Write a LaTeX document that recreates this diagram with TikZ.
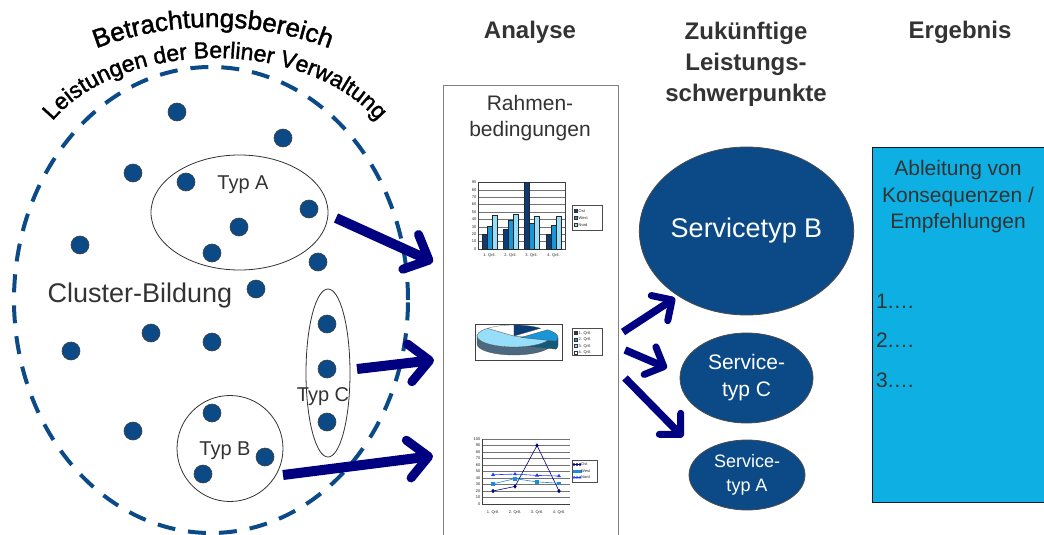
\documentclass[tikz,border=0pt]{standalone}
\usepackage{fontspec}
\setmainfont{Liberation Sans}
\newfontfamily\curvefam[FakeBold=1.6]{Liberation Sans}
\usetikzlibrary{shapes.geometric,arrows.meta,decorations.text,plotmarks}
\definecolor{dotblue}{RGB}{11,74,135}
\definecolor{navyar}{RGB}{0,0,128}
\definecolor{cyanbox}{RGB}{14,176,228}
\definecolor{txtgray}{RGB}{51,51,51}
\definecolor{barost}{RGB}{10,60,120}
\definecolor{barwest}{RGB}{24,150,215}
\definecolor{barnord}{RGB}{150,222,250}
\definecolor{pieside}{RGB}{77,105,128}
\definecolor{pieteal}{RGB}{20,90,120}
\definecolor{lnwest}{RGB}{30,140,215}
\definecolor{lnnord}{RGB}{30,60,255}
\newcommand\myfs[2]{\fontsize{#1}{#2}\selectfont}
\newcommand\curvefA{\curvefam\fontsize{26}{26}\selectfont}
\newcommand\curvefB{\curvefam\fontsize{23}{23}\selectfont}
\begin{document}
\begin{tikzpicture}[x=1pt,y=-1pt,
  dot/.style={circle, fill=dotblue, draw=black!75, line width=0.6pt, minimum size=18pt, inner sep=0pt},
  grp/.style={ellipse, draw=black!80, line width=0.8pt, inner sep=0pt},
  lbl/.style={text=txtgray, inner sep=0pt, font=\myfs{20}{24}},
  hdr/.style={text=txtgray, align=center, inner sep=0pt, font=\bfseries\myfs{24}{31}},
  svc/.style={ellipse, fill=dotblue, draw=black!70, line width=0.8pt, text=white, align=center, inner sep=0pt},
  fatarrow/.style={draw=navyar, line width=10pt, -{Straight Barb[length=20pt, width=38pt, line width=9pt, round]}},
  midarrow/.style={draw=navyar, line width=7.5pt, -{Straight Barb[length=15pt, width=30pt, line width=7pt, round]}},
  tinyt/.style={font=\myfs{4}{4.5}, inner sep=0pt, text=black!85},
  grid/.style={black!55, line width=0.3pt},
  legbox/.style={draw=black!70, line width=0.3pt, inner sep=0pt, anchor=north west, fill=white},
]
\useasboundingbox (0,0) rectangle (1044,535);

% dashed scope area
\node[ellipse, draw=dotblue, dash pattern=on 18pt off 13pt, line width=4pt,
      minimum width=394pt, minimum height=466pt, inner sep=0pt] (area) at (211,300) {};

% curved titles
\path[decorate, decoration={text along path, text align=center,
      text={|\curvefA|Betrachtungsbereich}}]
  (92,50) arc[start angle=248.5, end angle=291.5, radius=330];
\path[decorate, decoration={text along path, text align=center,
      text={|\curvefB|Leistungen der Berliner Verwaltung}}]
  (52,121.8) arc[start angle=208.2, end angle=331.8, x radius=185, y radius=121];

% groups
\node[grp, minimum width=177pt, minimum height=115pt] (tA) at (239.5,212.5) {};
\node[grp, minimum width=44pt, minimum height=168pt] (tC) at (328,373) {};
\node[grp, circle, minimum size=106pt] (tB) at (230,448.5) {};

% dots
\foreach \n/\p in {1/{(177,112)},2/{(283,138)},3/{(133,173)},4/{(186,182)},5/{(309,209)},
  6/{(239,227)},7/{(80,245)},8/{(212,253)},9/{(318,262)},10/{(256,289)},11/{(151,333)},
  12/{(212,342)},13/{(71,351)},14/{(327,324)},15/{(327,369)},16/{(327,422)},17/{(212,413)},
  18/{(133,431)},19/{(265,457)},20/{(203,474)}}
  \node[dot] (d\n) at \p {};

% labels
\node[lbl] (lA) at (243,185) {Typ A};
\node[lbl] (lC) at (323,397) {Typ C};
\node[lbl] (lB) at (225,451) {Typ B};
\node[lbl, font=\myfs{27}{30}] (cl) at (140,296) {Cluster-Bildung};

% headers
\node[hdr] (h1) at (530,32) {Analyse};
\node[hdr] (h2) at (746,64) {Zukünftige\\Leistungs-\\schwerpunkte};
\node[hdr] (h3) at (960,32) {Ergebnis};

% analyse box
\node[draw=black!50, line width=1.2pt, fill=white, minimum width=175pt, minimum height=460pt,
      inner sep=0pt, anchor=north west] (ana) at (443,85) {};
\node[lbl, align=center, font=\myfs{21}{26.5}] (rb) at (530,118) {Rahmen-\\bedingungen};

% ---- bar chart
\foreach \v in {0,10,...,90} {
  \draw[grid] (478,{249-0.74*\v}) -- (565,{249-0.74*\v});
  \node[tinyt, anchor=east] (by\v) at (476.5,{249-0.74*\v}) {\v};
}
\draw[black!75, line width=0.4pt] (478,182) rectangle (565,249);
\foreach \i/\gx/\o/\w/\nn in {1/482/20.4/30.6/45.9, 2/503/27.4/38.6/46.9, 3/524/90/34.6/45, 4/546/20.4/31.6/43.9} {
  \filldraw[fill=barost, draw=black!85, line width=0.3pt] (\gx,249) rectangle ++(5,{-0.74*\o});
  \filldraw[fill=barwest, draw=black!85, line width=0.3pt] ({\gx+5},249) rectangle ++(5,{-0.74*\w});
  \filldraw[fill=barnord, draw=black!85, line width=0.3pt] ({\gx+10},249) rectangle ++(5,{-0.74*\nn});
  \node[tinyt] (bc\i) at ({\gx+7.5},255) {\i. Qrtl.};
}
\node[legbox, minimum width=30pt, minimum height=25pt] (blg) at (572,205) {};
\foreach \k/\c/\t/\yy in {1/barost/Ost/211, 2/barwest/West/218, 3/barnord/Nord/225} {
  \filldraw[fill=\c, draw=black!80, line width=0.2pt] (574.5,{\yy-1.5}) rectangle ++(3,3);
  \node[tinyt, anchor=west] (bl\k) at (578.5,\yy) {\t};
}

% ---- pie chart
\node[draw=black!75, line width=0.5pt, minimum width=87pt, minimum height=36pt, inner sep=0pt,
      anchor=north west] (pfr) at (475,324) {};
\filldraw[fill=pieside, draw=black!70, line width=0.3pt]
  (514,336) ++(19.4:37 and 11) arc[start angle=19.4, end angle=180, x radius=37, y radius=11]
  -- ++(0,8) arc[start angle=180, end angle=19.4, x radius=37, y radius=11] -- cycle;
\filldraw[fill=pieteal, draw=black!70, line width=0.3pt]
  (521,337.5) -- ++(19.4:37 and 11) -- ++(0,8) -- (521,345.5) -- cycle;
\filldraw[fill=pieteal, draw=black!70, line width=0.3pt]
  (521,337.5) ++(0:37 and 11) arc[start angle=0, end angle=19.4, x radius=37, y radius=11]
  -- ++(0,8) arc[start angle=19.4, end angle=0, x radius=37, y radius=11] -- cycle;
\filldraw[fill=barnord, draw=black!70, line width=0.3pt]
  (514,336) -- ++(19.4:37 and 11) arc[start angle=19.4, end angle=224.4, x radius=37, y radius=11] -- cycle;
\filldraw[fill=white, draw=black!60, line width=0.3pt]
  (514,336) -- ++(224.4:37 and 11) arc[start angle=224.4, end angle=270, x radius=37, y radius=11] -- cycle;
\filldraw[fill=barost, draw=black!70, line width=0.3pt]
  (514,336) -- ++(-90:37 and 11) arc[start angle=-90, end angle=-44.4, x radius=37, y radius=11] -- cycle;
\filldraw[fill=barwest, draw=black!70, line width=0.3pt]
  (521,337.5) -- ++(-44.4:37 and 11) arc[start angle=-44.4, end angle=19.4, x radius=37, y radius=11] -- cycle;
\node[legbox, minimum width=30pt, minimum height=27pt] (plg) at (572,328) {};
\foreach \k/\c/\yy in {1/barost/333, 2/barwest/339.5, 3/barnord/346, 4/white/352.5} {
  \filldraw[fill=\c, draw=black!80, line width=0.2pt] (574.5,{\yy-1.5}) rectangle ++(3,3);
  \node[tinyt, anchor=west] (pl\k) at (578.5,\yy) {\k. Qrtl.};
}

% ---- line chart
\foreach \v in {0,10,...,100} {
  \draw[grid] (482,{504-0.65*\v}) -- (570,{504-0.65*\v});
  \node[tinyt, anchor=east] (ly\v) at (480.5,{504-0.65*\v}) {\v};
}
\draw[black!75, line width=0.4pt] (482,439) -- (482,504) -- (570,504);
\foreach \i/\cx in {1/493, 2/515, 3/537, 4/559}
  \node[tinyt] (lc\i) at (\cx,512) {\i. Qrtl.};
\draw[navyar, line width=0.6pt] plot[mark=diamond*, mark size=1.7pt, mark options={fill=navyar}]
  coordinates {(493,491) (515,486.45) (537,445.5) (559,491)};
\draw[lnwest, line width=0.6pt] plot[mark=square*, mark size=1.3pt, mark options={fill=lnwest}]
  coordinates {(493,483.85) (515,478.65) (537,481.9) (559,483.2)};
\draw[lnnord, line width=0.6pt] plot[mark=triangle*, mark size=1.6pt, mark options={fill=lnnord}]
  coordinates {(493,474.75) (515,474.1) (537,475.4) (559,476.05)};
\node[legbox, minimum width=25pt, minimum height=22pt] (llg) at (572,460) {};
\foreach \k/\c/\m/\t/\yy in {1/navyar/diamond*/Ost/464.5, 2/lnwest/square*/West/471, 3/lnnord/triangle*/Nord/477.5} {
  \draw[\c, line width=0.5pt] plot[mark=\m, mark size=1.2pt, mark options={fill=\c}] coordinates {(574,\yy) (577,\yy) (580,\yy)};
  \node[tinyt, anchor=west] (ll\k) at (581,\yy) {\t};
}

% ---- service types
\node[svc, minimum width=203pt, minimum height=168pt, font=\myfs{27}{30}] (sB) at (746.5,231) {Servicetyp B};
\node[svc, minimum width=133pt, minimum height=90pt, font=\myfs{21}{27}] (sC) at (746.5,378) {Service-\\typ C};
\node[svc, minimum width=116pt, minimum height=70pt, font=\myfs{18}{24}] (sA) at (747,475) {Service-\\typ A};

% ---- result box
\node[draw=black!60!cyanbox!40!black, fill=cyanbox, line width=1.2pt, minimum width=190pt, minimum height=355pt,
      inner sep=0pt, anchor=north west] (erg) at (872,147) {};
\node[lbl, align=center, font=\myfs{21}{26.5}] (ergt) at (958,197) {Ableitung von\\Konsequenzen /\\Empfehlungen};
\node[lbl, anchor=west, font=\myfs{21}{24}] (e1) at (876,301) {1.…};
\node[lbl, anchor=west, font=\myfs{21}{24}] (e2) at (876,340) {2.…};
\node[lbl, anchor=west, font=\myfs{21}{24}] (e3) at (876,380) {3.…};

% ---- arrows
\coordinate (a1s) at (336,218); \coordinate (a1e) at (433,262);
\coordinate (a2s) at (357,369); \coordinate (a2e) at (434,360);
\coordinate (a3s) at (283,475); \coordinate (a3e) at (433,456);
\draw[fatarrow] (a1s) -- (a1e);
\draw[fatarrow] (a2s) -- (a2e);
\draw[fatarrow] (a3s) -- (a3e);
\coordinate (b1s) at (623,332); \coordinate (b1e) at (675,298);
\coordinate (b2s) at (625,350); \coordinate (b2e) at (667,368);
\coordinate (b3s) at (625,378); \coordinate (b3e) at (683,437);
\draw[midarrow] (b1s) -- (b1e);
\draw[midarrow] (b2s) -- (b2e);
\draw[midarrow] (b3s) -- (b3e);
\end{tikzpicture}
\end{document}
